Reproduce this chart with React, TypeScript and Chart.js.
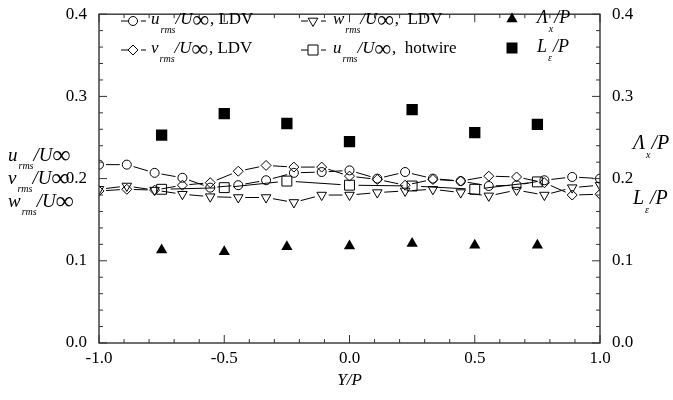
import React, { useEffect, useRef } from 'react';
import { Chart, registerables } from 'chart.js';

Chart.register(...registerables);

// Traverse positions Y/P for the LDV profiles and the coarser hotwire / length-scale stations
const ldvPositions = [-1.0, -0.889, -0.778, -0.667, -0.556, -0.444, -0.333, -0.222, -0.111, 0.0,
  0.111, 0.222, 0.333, 0.444, 0.556, 0.667, 0.778, 0.889, 1.0];
const stationPositions = [-0.75, -0.5, -0.25, 0.0, 0.25, 0.5, 0.75];

// Turbulence intensities
const uRmsLdv = [0.217, 0.217, 0.207, 0.201, 0.189, 0.192, 0.198, 0.207, 0.208, 0.210,
  0.200, 0.208, 0.200, 0.197, 0.191, 0.192, 0.198, 0.202, 0.200];
const vRmsLdv = [0.185, 0.187, 0.186, 0.192, 0.195, 0.209, 0.216, 0.214, 0.214, 0.203,
  0.199, 0.192, 0.199, 0.197, 0.203, 0.202, 0.195, 0.180, 0.181];
const wRmsLdv = [0.187, 0.191, 0.186, 0.181, 0.178, 0.177, 0.177, 0.171, 0.180, 0.180,
  0.183, 0.185, 0.187, 0.183, 0.179, 0.186, 0.180, 0.189, 0.192];
const uRmsHotwire = [0.187, 0.189, 0.197, 0.192, 0.191, 0.187, 0.196];

// Integral length scales
const lambdaXOverP = [0.113, 0.111, 0.117, 0.118, 0.121, 0.119, 0.119];
const lEpsOverP = [0.253, 0.279, 0.267, 0.245, 0.284, 0.256, 0.266];

// Axis settings
const xMin = -1.0;
const xMax = 1.0;
const yMin = 0.0;
const yMax = 0.4;

const FONT = '"Liberation Serif", "Times New Roman", serif';
const INK = '#000';

type Run = { text: string; italic?: boolean; bold?: boolean; size?: number; dy?: number; kern?: number };

function drawRuns(ctx: CanvasRenderingContext2D, x: number, y: number, runs: Run[]) {
  let cx = x;
  ctx.textBaseline = 'middle';
  ctx.textAlign = 'left';
  ctx.fillStyle = INK;
  for (const r of runs) {
    ctx.font = `${r.italic ? 'italic ' : ''}${r.bold ? 'bold ' : ''}${r.size || 17}px ${FONT}`;
    ctx.fillText(r.text, cx, y + (r.dy || 0));
    cx += ctx.measureText(r.text).width + (r.kern || 0);
  }
  return cx;
}

const rmsRatio = (sym: string, size = 17): Run[] => [
  { text: sym, italic: true, size, kern: 1 },
  { text: 'rms', italic: true, size: 10, dy: 10, kern: 0 },
  { text: '/U', italic: true, size, kern: 0 },
  { text: '\u221E', bold: true, size: size + 6, dy: 1, kern: 1 },
];

const ratioOverP = (sym: string, sub: string, size = 18): Run[] => [
  { text: sym, italic: true, size, kern: 1 },
  { text: sub, italic: true, size: 10, dy: 11, kern: 1 },
  { text: '/P', italic: true, size },
];

type MarkerKind = 'circle' | 'diamond' | 'downTri' | 'square' | 'fillTri' | 'fillSquare';

function drawMarker(ctx: CanvasRenderingContext2D, kind: MarkerKind, x: number, y: number) {
  ctx.beginPath();
  ctx.lineWidth = 1;
  ctx.strokeStyle = INK;
  ctx.fillStyle = INK;
  switch (kind) {
    case 'circle':
      ctx.arc(x, y, 4.5, 0, Math.PI * 2);
      ctx.stroke();
      break;
    case 'diamond':
      ctx.moveTo(x, y - 5); ctx.lineTo(x + 5, y); ctx.lineTo(x, y + 5); ctx.lineTo(x - 5, y); ctx.closePath();
      ctx.stroke();
      break;
    case 'downTri':
      ctx.moveTo(x - 4.8, y - 2.8); ctx.lineTo(x + 4.8, y - 2.8); ctx.lineTo(x, y + 5.5); ctx.closePath();
      ctx.stroke();
      break;
    case 'square':
      ctx.rect(x - 5, y - 5, 10, 10);
      ctx.stroke();
      break;
    case 'fillTri':
      ctx.moveTo(x, y - 6.5); ctx.lineTo(x + 5.6, y + 3.2); ctx.lineTo(x - 5.6, y + 3.2); ctx.closePath();
      ctx.fill();
      break;
    case 'fillSquare':
      ctx.rect(x - 5.5, y - 5.5, 11, 11);
      ctx.fill();
      break;
  }
}

// Lines joining successive points, stopped short of each marker
const gapLinesPlugin = {
  id: 'gapLines',
  beforeDatasetsDraw(chart: any) {
    const { ctx, chartArea } = chart;
    ctx.save();
    ctx.beginPath();
    ctx.rect(chartArea.left, chartArea.top, chartArea.right - chartArea.left, chartArea.bottom - chartArea.top);
    ctx.clip();
    ctx.strokeStyle = INK;
    ctx.lineWidth = 1;
    chart.data.datasets.forEach((ds: any, i: number) => {
      if (!ds.joined) return;
      const pts = chart.getDatasetMeta(i).data;
      const gap = ds.gap || 7;
      for (let k = 0; k < pts.length - 1; k++) {
        const a = pts[k];
        const b = pts[k + 1];
        const dx = b.x - a.x;
        const dy = b.y - a.y;
        const len = Math.hypot(dx, dy);
        if (len <= 2 * gap + 1) continue;
        const ux = dx / len;
        const uy = dy / len;
        ctx.beginPath();
        ctx.moveTo(a.x + ux * gap, a.y + uy * gap);
        ctx.lineTo(b.x - ux * gap, b.y - uy * gap);
        ctx.stroke();
      }
    });
    ctx.restore();
  },
};

// Boxed frame with inward ticks on all four sides
const framePlugin = {
  id: 'frame',
  afterDatasetsDraw(chart: any) {
    const { ctx, chartArea } = chart;
    const { left, right, top, bottom } = chartArea;
    const xs = chart.scales.x;
    const ys = chart.scales.y;
    ctx.save();
    ctx.strokeStyle = '#333';
    ctx.lineWidth = 1.4;
    ctx.strokeRect(left, top, right - left, bottom - top);
    ctx.lineWidth = 1;
    ctx.beginPath();
    for (let k = 0; k <= 20; k++) {
      const v = xMin + k * 0.1;
      const px = xs.getPixelForValue(v);
      const major = k % 5 === 0;
      const len = major ? 8 : 4;
      ctx.moveTo(px, bottom); ctx.lineTo(px, bottom - len);
      ctx.moveTo(px, top); ctx.lineTo(px, top + len);
    }
    for (let k = 0; k <= 20; k++) {
      const v = yMin + k * 0.02;
      const py = ys.getPixelForValue(v);
      const major = k % 5 === 0;
      const len = major ? 8 : 4;
      ctx.moveTo(left, py); ctx.lineTo(left + len, py);
      ctx.moveTo(right, py); ctx.lineTo(right - len, py);
    }
    ctx.stroke();
    ctx.restore();
  },
};

// Legend block and the axis quantity labels
const annotationPlugin = {
  id: 'annotations',
  afterDraw(chart: any) {
    const { ctx } = chart;
    ctx.save();
    const row1 = 21;
    const row2 = 50;
    const entries: { kind: MarkerKind; mx: number; y: number; tx: number; runs: Run[]; joined: boolean }[] = [
      { kind: 'circle', mx: 133, y: row1, tx: 151, runs: [...rmsRatio('u'), { text: ', LDV' }], joined: true },
      { kind: 'diamond', mx: 133, y: row2, tx: 151, runs: [...rmsRatio('v'), { text: ', LDV' }], joined: true },
      { kind: 'downTri', mx: 313, y: row1, tx: 333, runs: [...rmsRatio('w'), { text: ',  LDV' }], joined: true },
      { kind: 'square', mx: 313, y: row2, tx: 333, runs: [...rmsRatio('u'), { text: ',  hotwire' }], joined: true },
      { kind: 'fillTri', mx: 512, y: row1 - 2, tx: 537, runs: ratioOverP('\u039B', 'x'), joined: false },
      { kind: 'fillSquare', mx: 512, y: row2 - 2, tx: 537, runs: ratioOverP('L', '\u03B5'), joined: false },
    ];
    for (const e of entries) {
      if (e.joined) {
        ctx.beginPath();
        ctx.strokeStyle = INK;
        ctx.lineWidth = 1;
        ctx.moveTo(e.mx - 12, e.y); ctx.lineTo(e.mx - 5, e.y);
        ctx.moveTo(e.mx + 8, e.y); ctx.lineTo(e.mx + 13, e.y);
        ctx.stroke();
      }
      drawMarker(ctx, e.kind, e.mx, e.y);
      drawRuns(ctx, e.tx, e.y - 1, e.runs);
    }

    // Left-axis quantities
    drawRuns(ctx, 8, 156, rmsRatio('u', 19));
    drawRuns(ctx, 8, 179, rmsRatio('v', 19));
    drawRuns(ctx, 8, 202, rmsRatio('w', 19));

    // Right-axis quantities
    drawRuns(ctx, 633, 144, ratioOverP('\u039B', 'x', 20));
    drawRuns(ctx, 633, 199, ratioOverP('L', '\u03B5', 20));
    ctx.restore();
  },
};

const tickFont = { family: FONT, size: 17 };
const fmt = (v: any) => Number(v).toFixed(1);

export default function App() {
  const canvasRef = useRef<HTMLCanvasElement | null>(null);

  useEffect(() => {
    document.body.style.margin = '0';
    const canvas = canvasRef.current;
    if (!canvas) return;

    const open = 'rgba(0,0,0,0)';
    const chart = new Chart(canvas, {
      type: 'scatter',
      data: {
        datasets: [
          {
            label: 'u_rms/U, LDV',
            data: ldvPositions.map((x, i) => ({ x, y: uRmsLdv[i] })),
            pointStyle: 'circle', pointRadius: 4.5, borderColor: INK, backgroundColor: open, borderWidth: 1,
            joined: true, gap: 7,
          } as any,
          {
            label: 'v_rms/U, LDV',
            data: ldvPositions.map((x, i) => ({ x, y: vRmsLdv[i] })),
            pointStyle: 'rectRot', pointRadius: 5, borderColor: INK, backgroundColor: open, borderWidth: 1,
            joined: true, gap: 7,
          } as any,
          {
            label: 'w_rms/U, LDV',
            data: ldvPositions.map((x, i) => ({ x, y: wRmsLdv[i] })),
            pointStyle: 'triangle', pointRotation: 180, pointRadius: 5.5, borderColor: INK, backgroundColor: open, borderWidth: 1,
            joined: true, gap: 7,
          } as any,
          {
            label: 'u_rms/U, hotwire',
            data: stationPositions.map((x, i) => ({ x, y: uRmsHotwire[i] })),
            pointStyle: 'rect', pointRadius: 7, borderColor: INK, backgroundColor: open, borderWidth: 1,
            joined: true, gap: 9,
          } as any,
          {
            label: 'Lambda_x/P',
            data: stationPositions.map((x, i) => ({ x, y: lambdaXOverP[i] })),
            pointStyle: 'triangle', pointRadius: 6.5, borderColor: INK, backgroundColor: INK, borderWidth: 0,
          } as any,
          {
            label: 'L_eps/P',
            data: stationPositions.map((x, i) => ({ x, y: lEpsOverP[i] })),
            pointStyle: 'rect', pointRadius: 8, borderColor: INK, backgroundColor: INK, borderWidth: 0,
          } as any,
        ],
      },
      options: {
        responsive: true,
        maintainAspectRatio: false,
        animation: false,
        layout: { padding: { top: 8, left: 0, right: 0, bottom: 0 } },
        plugins: {
          legend: { display: false },
          tooltip: { enabled: false },
        },
        scales: {
          x: {
            type: 'linear',
            position: 'bottom',
            min: xMin,
            max: xMax,
            grid: { display: false },
            border: { display: false },
            ticks: { stepSize: 0.5, color: INK, font: tickFont, padding: -3, maxRotation: 0, callback: fmt },
            title: { display: true, text: 'Y/P', color: INK, font: { family: FONT, size: 17, style: 'italic' }, padding: { top: 0, bottom: 9 } },
            afterFit: (s: any) => { s.height = 57; },
          },
          y: {
            type: 'linear',
            position: 'left',
            min: yMin,
            max: yMax,
            grid: { display: false },
            border: { display: false },
            ticks: { stepSize: 0.1, color: INK, font: tickFont, padding: 4, callback: fmt },
            afterFit: (s: any) => { s.width = 99; },
          },
          y2: {
            type: 'linear',
            position: 'right',
            min: yMin,
            max: yMax,
            grid: { display: false },
            border: { display: false },
            ticks: { stepSize: 0.1, color: INK, font: tickFont, padding: 4, callback: fmt },
            afterFit: (s: any) => { s.width = 73; },
          },
        },
      } as any,
      plugins: [gapLinesPlugin, framePlugin, annotationPlugin],
    });

    return () => chart.destroy();
  }, []);

  return (
    <div style={{ width: 673, height: 400, position: 'relative', background: '#fff' }}>
      <canvas ref={canvasRef} />
    </div>
  );
}
